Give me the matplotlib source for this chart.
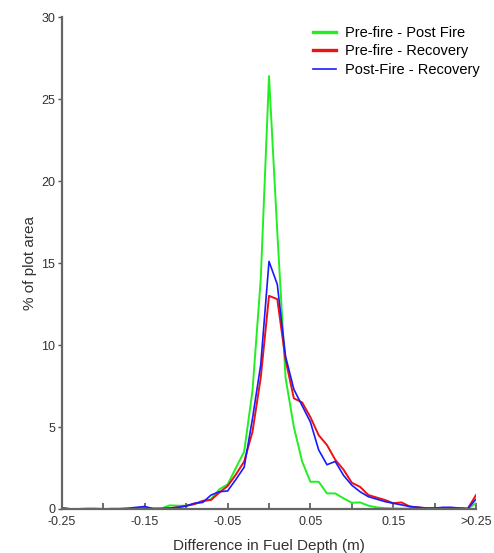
import numpy as np
import matplotlib
matplotlib.use("Agg")
import matplotlib.pyplot as plt

plt.rcParams['font.family'] = ['Liberation Sans', 'DejaVu Sans']

# Bin centres (m): -0.25 .. 0.25 in steps of 0.01 (last bin = ">0.25")
depth = np.round(np.arange(-0.25, 0.2501, 0.01), 2)

pre_post = [0.02, 0.0, 0.0, 0.0, 0.0, 0.0, 0.0, 0.0, 0.0, 0.02,   # -0.25..-0.16
            0.05, 0.02, 0.03, 0.22, 0.2, 0.2, 0.3, 0.45, 0.6, 1.2,  # -0.15..-0.06
            1.5, 2.5, 3.5, 7.2, 14.0, 26.4, 16.9, 8.0, 5.0, 2.9,    # -0.05..0.04
            1.66, 1.66, 0.95, 0.95, 0.65, 0.38, 0.4, 0.2, 0.1, 0.05, # 0.05..0.14
            0.03, 0.02, 0.02, 0.02, 0.02, 0.02, 0.02, 0.02, 0.02, 0.02, # 0.15..0.24
            0.35]

pre_rec = [0.05, 0.0, 0.0, 0.02, 0.02, 0.0, 0.0, 0.0, 0.0, 0.02,
           0.05, 0.02, 0.02, 0.05, 0.1, 0.2, 0.3, 0.5, 0.55, 1.0,
           1.4, 2.1, 2.9, 4.7, 8.0, 13.0, 12.8, 9.1, 6.75, 6.5,
           5.6, 4.5, 3.9, 3.0, 2.4, 1.6, 1.35, 0.85, 0.7, 0.55,
           0.35, 0.4, 0.15, 0.1, 0.05, 0.05, 0.05, 0.05, 0.05, 0.02,
           0.85]

post_rec = [0.05, 0.0, 0.0, 0.0, 0.0, 0.0, 0.02, 0.02, 0.05, 0.1,
            0.15, 0.02, 0.02, 0.05, 0.1, 0.18, 0.35, 0.4, 0.85, 1.05,
            1.1, 1.8, 2.55, 5.5, 8.8, 15.1, 13.7, 9.3, 7.3, 6.3,
            5.3, 3.6, 2.7, 2.9, 2.05, 1.45, 1.05, 0.75, 0.6, 0.45,
            0.35, 0.25, 0.15, 0.1, 0.05, 0.05, 0.1, 0.1, 0.05, 0.02,
            0.6]

xtick_pos = [-0.25, -0.15, -0.05, 0.05, 0.15, 0.25]
xtick_labels = ["-0.25", "-0.15", "-0.05", "0.05", "0.15", ">0.25"]
ytick_pos = [0, 5, 10, 15, 20, 25, 30]

fig = plt.figure(figsize=(4.94, 5.53), dpi=100)
ax = fig.add_axes([0.1255, 0.0796, 0.8381, 0.8894])

ax.plot(depth, pre_post, color="#22ee22", lw=1.4, label="Pre-fire - Post Fire")
ax.plot(depth, pre_rec, color="#ee1111", lw=1.4, label="Pre-fire - Recovery")
ax.plot(depth, post_rec, color="#1a1aff", lw=1.2, label="Post-Fire - Recovery")

ax.set_xlim(-0.25, 0.25)
ax.set_ylim(0, 30)
ax.set_xticks(xtick_pos)
ax.set_xticklabels(xtick_labels)
ax.set_xticks(np.arange(-0.2, 0.21, 0.1), minor=True)
ax.set_yticks(ytick_pos)

for s in ["top", "right"]:
    ax.spines[s].set_visible(False)
for s in ["left", "bottom"]:
    ax.spines[s].set_color("#666666")
    ax.spines[s].set_linewidth(1.6)

ax.tick_params(axis="x", which="both", direction="in", length=4, width=1.2,
               color="#555555", labelsize=9, labelcolor="#333333", pad=5)
ax.tick_params(axis="y", direction="out", length=3, width=1.0,
               color="#555555", labelsize=9, labelcolor="#333333", pad=2)

ax.set_xlabel("Difference in Fuel Depth (m)", fontsize=11, color="#333333", labelpad=8)
ax.set_ylabel("% of plot area", fontsize=11, color="#333333", labelpad=3)

leg = ax.legend(loc="upper right", frameon=False, fontsize=10.5, handlelength=1.6,
                handletextpad=0.6, bbox_to_anchor=(1.03, 1.0),
                labelspacing=0.3, borderaxespad=0.2)
for line, lw in zip(leg.get_lines(), [2.4, 2.4, 1.2]):
    line.set_linewidth(lw)

fig.savefig("out.png", dpi=100)
